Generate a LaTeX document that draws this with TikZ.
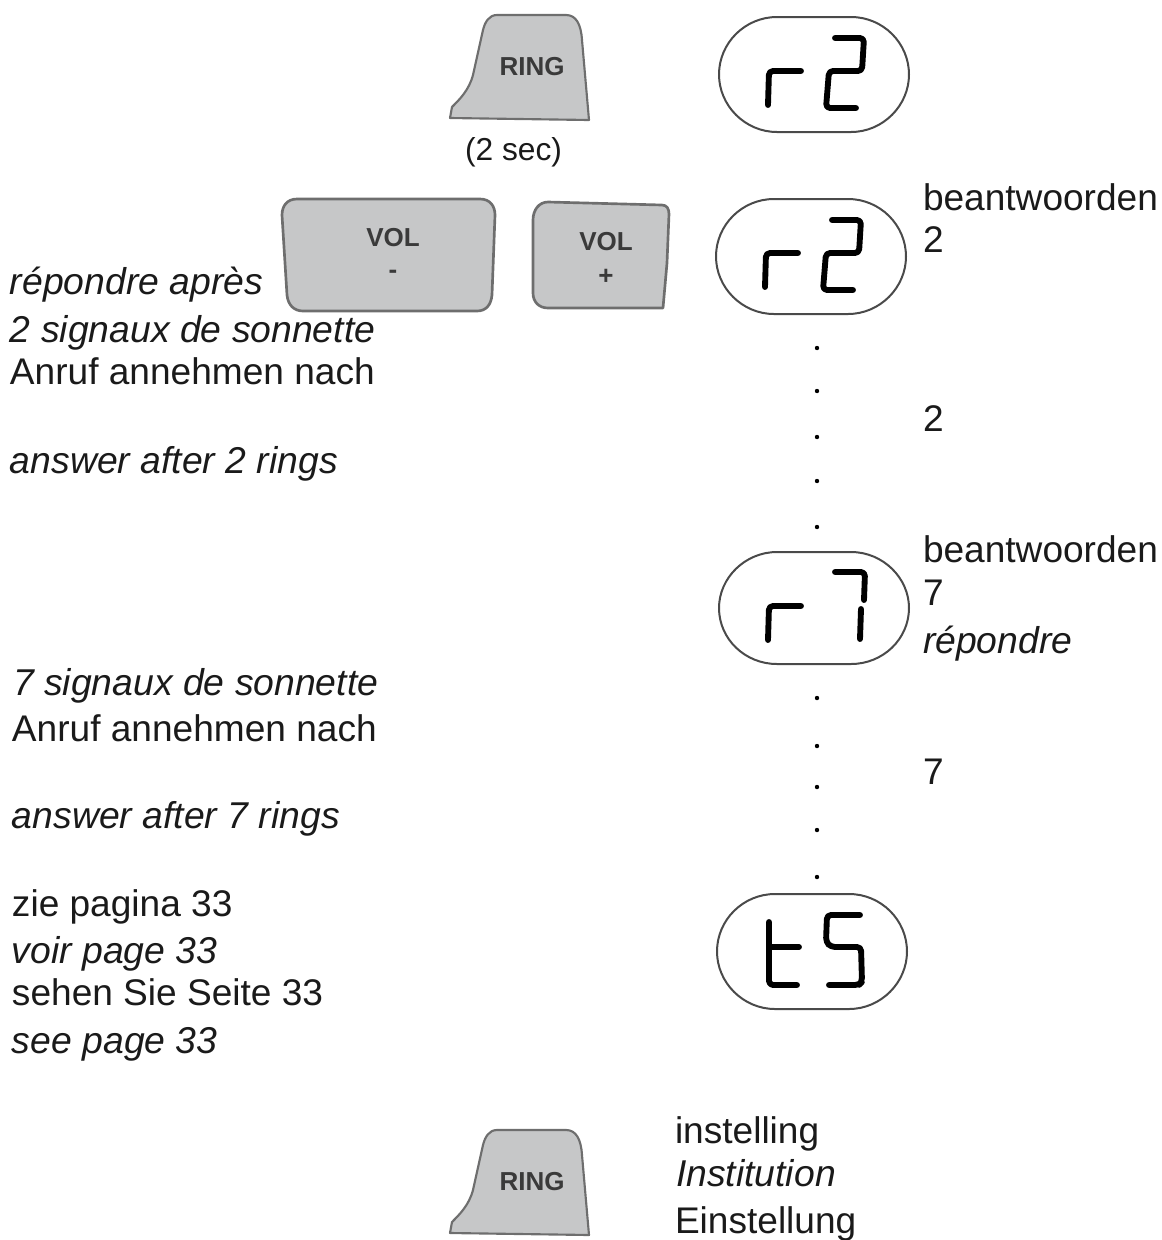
\documentclass[tikz,border=0pt]{standalone}
\usepackage{fontspec}
\setmainfont{Liberation Sans}
\definecolor{ink}{HTML}{1A1A1A}
\definecolor{keyfill}{HTML}{C6C7C8}
\definecolor{keyline}{HTML}{6E6E6E}
\definecolor{lcdline}{HTML}{4A4A4A}
\definecolor{keytext}{HTML}{3A3A3A}
\tikzset{
  px/.style={x=0.75pt,y=-0.75pt},
  lab/.style={anchor=base west,inner sep=0pt,outer sep=0pt,text=ink,font=\fontsize{27.8pt}{30pt}\selectfont},
  ilab/.style={lab,font=\fontsize{28pt}{30pt}\selectfont\itshape},
  seclab/.style={lab,font=\fontsize{23.8pt}{26pt}\selectfont},
  keylab/.style={inner sep=0pt,text=keytext,font=\fontsize{19.5pt}{22pt}\selectfont\bfseries},
  keybody/.style={fill=keyfill,draw=keyline,line width=1.6pt,line join=round},
  lcdframe/.style={draw=lcdline,line width=1.5pt,fill=white},
  lcdseg/.style={draw=black,line width=4.4pt,line cap=round,line join=round,rounded corners=3pt},
  dotmark/.style={fill=black,draw=none}
}
\newcommand{\lcdshape}[1]{%
  \path[lcdframe] (58,0) -- (132,0) .. controls (164,0) and (190,26) .. (190,#1)
    .. controls (190,#1+31) and (164,2*#1) .. (132,2*#1) -- (58,2*#1)
    .. controls (26,2*#1) and (0,#1+31) .. (0,#1)
    .. controls (0,26) and (26,0) .. (58,0) -- cycle;}
\newcommand{\lcdr}{\draw[lcdseg] (49,88) -- (50,54) -- (82,54);}
\newcommand{\lcdtwo}{\draw[lcdseg] (116,21) -- (145,21) -- (143,54) -- (110,54) -- (107,91) -- (137,91);}
\newcommand{\ringkey}{%
  \path[keybody] (450,118) -- (452,107) .. controls (460,99) and (469,90) .. (473,75) -- (483,30)
    .. controls (485,22) and (489,15) .. (497,15) -- (566,15)
    .. controls (576,15) and (581,24) .. (582,40) -- (589,120) -- cycle;}
\begin{document}
\begin{tikzpicture}[px]
\useasboundingbox (0,0) rectangle (1162,1240);
% keys
\begin{scope}\ringkey\end{scope}
\node[keylab] (ring1) at (532,67) {RING};
\node[seclab] (sec) at (465,160) {(2 sec)};
\path[keybody,line width=2pt] (297,199) -- (480,199) .. controls (490,199) and (495,206) .. (495,215)
  -- (492,295) .. controls (491,305) and (486,311) .. (477,311) -- (303,311)
  .. controls (294,311) and (288,305) .. (287,295) -- (282,215)
  .. controls (282,206) and (287,199) .. (297,199) -- cycle;
\node[keylab] (volm) at (393,238) {VOL};
\node[keylab] (minus) at (393,274) {-};
\path[keybody,line width=2pt] (548,202) -- (662,205) .. controls (667,205) and (669,209) .. (669,214)
  -- (667,263) -- (663,308) -- (548,308) .. controls (539,308) and (533,302) .. (533,293)
  -- (533,220) .. controls (533,210) and (539,202) .. (548,202) -- cycle;
\node[keylab] (volp) at (606,242) {VOL};
\node[keylab] (plus) at (606,277) {+};
\begin{scope}[shift={(0,1115)}]\ringkey\end{scope}
\node[keylab] (ring2) at (532,1182) {RING};
% displays
\begin{scope}[shift={(719,17)}]\lcdshape{57.5}\lcdr\lcdtwo\end{scope}
\begin{scope}[shift={(716,199)}]\lcdshape{57.5}\lcdr\lcdtwo\end{scope}
\begin{scope}[shift={(719,552)}]\lcdshape{56}\lcdr
  \draw[lcdseg] (116,20) -- (146,20) -- (145,48);
  \draw[lcdseg] (142,57) -- (141,87);
\end{scope}
\begin{scope}[shift={(717,894)}]\lcdshape{57.5}
  \draw[lcdseg] (52,28) -- (52,91) -- (80,91);
  \draw[lcdseg] (52,53) -- (82,53);
  \draw[lcdseg] (143,21) -- (110,21) -- (109,48) -- (114,53) -- (144,53) -- (145,88) -- (142,91) -- (112,91);
\end{scope}
% dots
\foreach \yy in {348,391,437,481,527,698,746,787,830,877}
  \fill[dotmark] (817,\yy) circle[radius=2.2];
% left text
\node[ilab] (t1) at (10,294) {répondre après};
\node[ilab] (t2) at (10,342) {2 signaux de sonnette};
\node[lab]  (t3) at (10,384) {Anruf annehmen nach};
\node[ilab] (t4) at (10,473) {answer after 2 rings};
\node[ilab] (t5) at (13,695) {7 signaux de sonnette};
\node[lab]  (t6) at (12,741) {Anruf annehmen nach};
\node[ilab] (t7) at (12,828) {answer after 7 rings};
\node[lab]  (t8) at (12,916) {zie pagina 33};
\node[ilab] (t9) at (12,963) {voir page 33};
\node[lab]  (t10) at (12,1005) {sehen Sie Seite 33};
\node[ilab] (t11) at (12,1053) {see page 33};
% right text
\node[lab]  (r1) at (923,210) {beantwoorden};
\node[lab]  (r2) at (923,252) {2};
\node[lab]  (r3) at (923,431) {2};
\node[lab]  (r4) at (923,562) {beantwoorden};
\node[lab]  (r5) at (923,605) {7};
\node[ilab] (r6) at (923,653) {répondre};
\node[lab]  (r7) at (923,784) {7};
% bottom text
\node[lab]  (b1) at (675,1143) {instelling};
\node[ilab] (b2) at (676,1186) {Institution};
\node[lab]  (b3) at (675,1233) {Einstellung};
\end{tikzpicture}
\end{document}
